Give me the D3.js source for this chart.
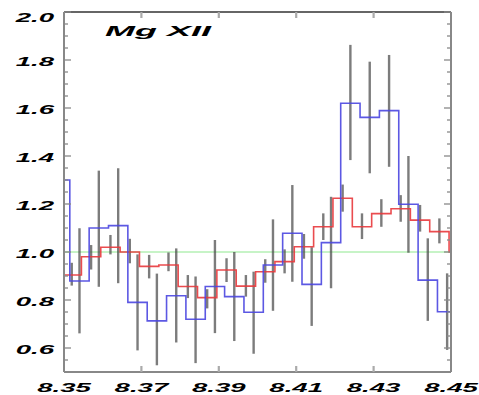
<!DOCTYPE html>
<html>
<head>
<meta charset="utf-8">
<script src="https://cdn.jsdelivr.net/npm/d3@7"></script>
<style>
  html, body { margin: 0; padding: 0; background: #fff; }
  svg { display: block; }
  .lbl { font-family: "Liberation Sans", Arial, sans-serif; font-weight: bold; font-style: italic; fill: #000; }
</style>
</head>
<body>
<svg id="chart" width="479" height="395"></svg>
<script>
// Mg XII line region: two grating spectra (broad and narrow error bars)
// with their binned model curves, ratio units.
const binWidth = 0.005;

// Model A (blue), binned on the broad-error data grid
const blueCenters = [8.349, 8.354, 8.359, 8.364, 8.369, 8.374, 8.379, 8.384, 8.389, 8.394,
                     8.399, 8.404, 8.409, 8.414, 8.419, 8.424, 8.429, 8.434, 8.439, 8.444, 8.449];
const blueValues  = [1.30, 0.879, 1.10, 1.11, 0.79, 0.713, 0.818, 0.72, 0.856, 0.814,
                     0.749, 0.946, 1.078, 0.865, 1.039, 1.62, 1.561, 1.589, 1.199, 0.883, 0.751];

// Model B (red), binned on the narrow-error data grid
const redCenters = [8.352, 8.357, 8.362, 8.367, 8.372, 8.377, 8.382, 8.387, 8.392, 8.397,
                    8.402, 8.407, 8.412, 8.417, 8.422, 8.427, 8.432, 8.437, 8.442, 8.447, 8.452];
const redValues  = [0.904, 0.98, 1.02, 1.0, 0.94, 0.946, 0.856, 0.81, 0.925, 0.858,
                    0.918, 0.96, 1.022, 1.105, 1.224, 1.105, 1.16, 1.18, 1.133, 1.085, 1.0];

// Broad-error data points
const wideX  = [8.354, 8.359, 8.364, 8.369, 8.374, 8.379, 8.384, 8.389, 8.394, 8.399,
                8.404, 8.409, 8.414, 8.419, 8.424, 8.429, 8.434, 8.439, 8.444, 8.449];
const wideLo = [0.661, 0.855, 0.870, 0.590, 0.528, 0.623, 0.537, 0.662, 0.629, 0.576,
                0.755, 0.876, 0.692, 0.849, 1.383, 1.328, 1.355, 0.997, 0.713, 0.592];
const wideHi = [1.099, 1.339, 1.349, 0.990, 0.910, 1.015, 0.898, 1.050, 1.000, 0.918,
                1.136, 1.279, 1.020, 1.230, 1.863, 1.793, 1.821, 1.400, 1.057, 0.911];

// Narrow-error data points
const narrowX  = [8.352, 8.357, 8.362, 8.367, 8.372, 8.377, 8.382, 8.387, 8.392, 8.397,
                  8.402, 8.407, 8.412, 8.417, 8.422, 8.427, 8.432, 8.437, 8.442, 8.447];
const narrowLo = [0.860, 0.927, 0.990, 0.953, 0.890, 0.920, 0.808, 0.765, 0.875, 0.814,
                  0.872, 0.911, 0.972, 1.050, 1.168, 1.054, 1.105, 1.126, 1.085, 1.036];
const narrowHi = [0.955, 1.029, 1.071, 1.055, 0.988, 0.998, 0.904, 0.845, 0.974, 0.904,
                  0.970, 1.011, 1.075, 1.161, 1.281, 1.161, 1.220, 1.237, 1.196, 1.140];

const xTickValues = [8.35, 8.37, 8.39, 8.41, 8.43, 8.45];
const xTickLabels = ["8.35", "8.37", "8.39", "8.41", "8.43", "8.45"];
const yTickValues = [0.6, 0.8, 1.0, 1.2, 1.4, 1.6, 1.8, 2.0];
const yTickLabels = ["0.6", "0.8", "1.0", "1.2", "1.4", "1.6", "1.8", "2.0"];
const title = "Mg XII";
const refLevel = 1.0;

const pLeft = 64, pRight = 451, pTop = 12, pBottom = 372;
const x = d3.scaleLinear().domain([8.35, 8.45]).range([pLeft, pRight]);
const y = d3.scaleLinear().domain([0.5, 2.0]).range([pBottom, pTop]);

const svg = d3.select("#chart");

svg.append("defs").append("clipPath").attr("id", "plotClip")
  .append("rect").attr("x", pLeft).attr("y", pTop)
  .attr("width", pRight - pLeft).attr("height", pBottom - pTop);

const plot = svg.append("g").attr("clip-path", "url(#plotClip)");

// unity reference line
plot.append("line")
  .attr("x1", x(8.35)).attr("x2", x(8.45))
  .attr("y1", y(refLevel)).attr("y2", y(refLevel))
  .attr("stroke", "#8fe88f").attr("stroke-width", 1);

// error bars
function drawBars(xs, lo, hi) {
  plot.append("g").selectAll("line").data(xs).join("line")
    .attr("x1", d => x(d)).attr("x2", d => x(d))
    .attr("y1", (d, i) => y(lo[i])).attr("y2", (d, i) => y(hi[i]))
    .attr("stroke", "#4a4a4a").attr("stroke-opacity", 0.72)
    .attr("stroke-width", 2.4);
}
drawBars(wideX, wideLo, wideHi);
drawBars(narrowX, narrowLo, narrowHi);

// stepped model histograms
function stepPoints(centers, values) {
  const pts = [];
  centers.forEach((c, i) => {
    pts.push([x(c - binWidth / 2), y(values[i])]);
    pts.push([x(c + binWidth / 2), y(values[i])]);
  });
  return pts;
}
const line = d3.line();
plot.append("path").attr("d", line(stepPoints(redCenters, redValues)))
  .attr("fill", "none").attr("stroke", "#e8383c").attr("stroke-width", 1.6)
  .attr("stroke-opacity", 0.9);
plot.append("path").attr("d", line(stepPoints(blueCenters, blueValues)))
  .attr("fill", "none").attr("stroke", "#4a46e0").attr("stroke-width", 1.6)
  .attr("stroke-opacity", 0.9);

// frame
const frame = svg.append("g");
frame.append("line").attr("x1", pLeft).attr("x2", pRight).attr("y1", pTop).attr("y2", pTop)
  .attr("stroke", "#333").attr("stroke-width", 1.4);
frame.append("line").attr("x1", pLeft).attr("x2", pRight).attr("y1", pBottom).attr("y2", pBottom)
  .attr("stroke", "#888").attr("stroke-width", 2);
frame.append("line").attr("x1", pLeft).attr("x2", pLeft).attr("y1", pTop).attr("y2", pBottom)
  .attr("stroke", "#888").attr("stroke-width", 2);
frame.append("line").attr("x1", pRight).attr("x2", pRight).attr("y1", pTop).attr("y2", pBottom)
  .attr("stroke", "#888").attr("stroke-width", 2);

// y ticks (major every 0.2, minor every 0.05), inward on both sides
const yMinor = d3.range(0.55, 2.0, 0.05).filter(v => !yTickValues.some(t => Math.abs(t - v) < 1e-6));
const ticks = svg.append("g").attr("stroke", "#888").attr("stroke-width", 1.3);
yTickValues.forEach(v => {
  ticks.append("line").attr("x1", pLeft).attr("x2", pLeft + 7).attr("y1", y(v)).attr("y2", y(v));
  ticks.append("line").attr("x1", pRight).attr("x2", pRight - 7).attr("y1", y(v)).attr("y2", y(v));
});
yMinor.forEach(v => {
  ticks.append("line").attr("x1", pLeft).attr("x2", pLeft + 4).attr("y1", y(v)).attr("y2", y(v));
  ticks.append("line").attr("x1", pRight).attr("x2", pRight - 4).attr("y1", y(v)).attr("y2", y(v));
});
// x ticks, top and bottom
xTickValues.slice(1, -1).forEach(v => {
  ticks.append("line").attr("x1", x(v)).attr("x2", x(v)).attr("y1", pBottom).attr("y2", pBottom - 6)
    .attr("stroke-width", 2.2).attr("stroke", "#aaa");
  ticks.append("line").attr("x1", x(v)).attr("x2", x(v)).attr("y1", pTop).attr("y2", pTop + 6)
    .attr("stroke-width", 2.2).attr("stroke", "#aaa");
});

// tick labels (wide, heavy lettering)
const stretch = 2.3;
yTickValues.forEach((v, i) => {
  const ty = Math.max(y(v) + 1.5, 17.5);
  svg.append("text").attr("class", "lbl")
    .attr("transform", `translate(54,${ty}) scale(${stretch},1)`)
    .attr("text-anchor", "end").attr("dy", "0.36em")
    .attr("font-size", 12).text(yTickLabels[i]);
});
xTickValues.forEach((v, i) => {
  svg.append("text").attr("class", "lbl")
    .attr("transform", `translate(${x(v)},392) scale(${stretch},1)`)
    .attr("text-anchor", "middle")
    .attr("font-size", 12).text(xTickLabels[i]);
});

// line label
svg.append("text").attr("class", "lbl")
  .attr("transform", `translate(105,36) scale(2.4,1)`)
  .attr("font-size", 15).text(title);
</script>
</body>
</html>
